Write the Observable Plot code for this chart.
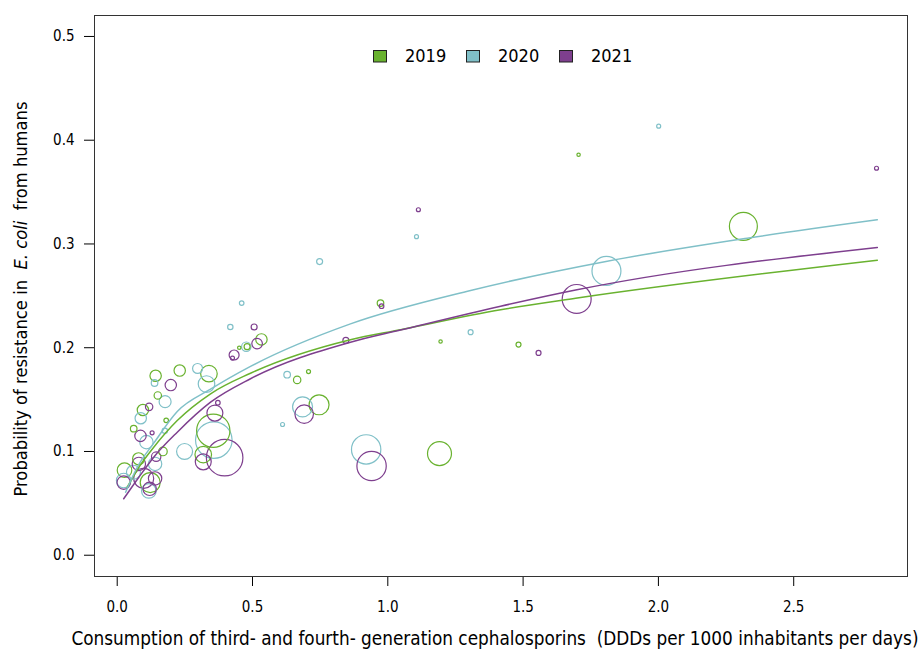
<!DOCTYPE html>
<html><head><meta charset="utf-8">
<script src="https://cdn.jsdelivr.net/npm/d3@7"></script>
<script src="https://cdn.jsdelivr.net/npm/@observablehq/plot@0.6"></script>
<style>
body{margin:0;background:#fff;}
#chart svg{display:block;}
</style>
</head><body>
<div id="chart"></div>
<script>
const years = ["2019", "2020", "2021"];
const colors = ["#69b22f", "#80c0c8", "#7e3f8e"];

// 2019
const x2019 = [0.142,0.231,0.339,0.150,0.095,0.061,0.181,0.169,0.355,0.318,0.533,0.480,0.451,0.665,0.707,0.746,0.973,0.027,0.122,0.079,1.191,1.195,1.483,1.705,2.314];
const y2019 = [0.173,0.178,0.175,0.154,0.140,0.122,0.130,0.100,0.120,0.097,0.208,0.201,0.200,0.169,0.177,0.145,0.243,0.082,0.070,0.093,0.098,0.206,0.203,0.386,0.317];
const n2019 = [812,812,1722,342,812,272,132,462,6972,1722,812,225,72,342,100,2500,272,1332,2500,900,3600,72,156,72,4900];
// 2020
const x2020 = [0.460,0.418,0.477,0.297,0.330,0.138,0.177,0.087,0.357,0.249,0.108,0.176,0.628,0.685,0.611,0.920,0.024,0.117,0.140,0.060,1.808,2.001,1.106,0.748,1.306];
const y2020 = [0.243,0.220,0.201,0.180,0.165,0.166,0.148,0.132,0.111,0.100,0.109,0.120,0.174,0.143,0.126,0.102,0.072,0.062,0.088,0.080,0.274,0.4135,0.307,0.283,0.215];
const n2020 = [132,182,552,625,1722,272,900,812,8372,1600,1122,182,272,2500,100,5402,1332,1332,1122,1225,5256,100,100,225,156];
// 2021
const x2021 = [0.506,0.517,0.432,0.426,0.845,0.977,0.198,0.118,0.129,0.086,0.144,0.372,0.361,0.397,0.318,0.691,0.940,0.024,0.098,0.120,0.080,0.140,1.698,2.806,1.113,1.557];
const y2021 = [0.220,0.204,0.193,0.190,0.207,0.240,0.164,0.143,0.118,0.115,0.095,0.147,0.137,0.094,0.090,0.136,0.086,0.070,0.074,0.064,0.088,0.074,0.247,0.373,0.333,0.195];
const n2021 = [225,702,625,100,225,132,812,342,100,812,552,132,1600,8372,1600,2162,5402,1122,2500,1122,1122,1122,5256,100,100,156];

// fitted curves
const fitX2019 = [0.037,0.080,0.135,0.222,0.345,0.4926,0.862,1.047,1.417,1.694,2.809];
const fitY2019 = [0.0655,0.0848,0.1041,0.1298,0.1556,0.1754,0.2077,0.2174,0.2366,0.2477,0.2844];
const fitX2020 = [0.031,0.074,0.135,0.222,0.345,0.4926,0.862,1.306,1.811,2.328,2.809];
const fitY2020 = [0.0607,0.0848,0.108,0.1385,0.160,0.182,0.223,0.2552,0.2834,0.3056,0.3233];
const fitX2021 = [0.024,0.080,0.135,0.222,0.345,0.4926,0.862,1.047,1.417,1.694,2.809];
const fitY2021 = [0.0544,0.0752,0.0945,0.1186,0.1475,0.1701,0.2053,0.2170,0.2400,0.2556,0.2966];

const xTicks = [0, 0.5, 1, 1.5, 2, 2.5];
const yTicks = [0, 0.1, 0.2, 0.3, 0.4, 0.5];

const xLabel = "Consumption of third- and fourth- generation cephalosporins  (DDDs per 1000 inhabitants per days)";
const yLabelParts = ["Probability of resistance in  ", "E. coli", "  from humans"];

const X = [x2019, x2020, x2021], Y = [y2019, y2020, y2021], N = [n2019, n2020, n2021];
const FX = [fitX2019, fitX2020, fitX2021], FY = [fitY2019, fitY2020, fitY2021];

const pts = [], fits = [];
years.forEach((yr, i) => {
  X[i].forEach((v, j) => pts.push({year: yr, x: v, y: Y[i][j], n: N[i][j]}));
  FX[i].forEach((v, j) => fits.push({year: yr, x: v, y: FY[i][j]}));
});

const FONT = '"DejaVu Sans Condensed","DejaVu Sans",sans-serif';

const chart = Plot.plot({
  width: 923, height: 651,
  marginLeft: 94, marginRight: 16, marginTop: 15, marginBottom: 75,
  style: {fontFamily: FONT, fontSize: "15px", color: "#000", background: "#fff"},
  x: {domain: [-0.0839, 2.9205], ticks: xTicks, tickFormat: d3.format(".1f"), tickSize: 10, tickPadding: 15, label: null},
  y: {domain: [-0.0205, 0.5202], ticks: yTicks, tickFormat: d3.format(".1f"), tickSize: 10, tickPadding: 10, label: null},
  color: {domain: years, range: colors},
  r: {type: "sqrt", domain: [0, 8400], range: [0, 18.3]},
  marks: [
    Plot.frame({stroke: "#333"}),
    Plot.dot(pts, {x: "x", y: "y", r: "n", stroke: "year", fill: "none", strokeWidth: 1.2}),
    Plot.line(fits, {x: "x", y: "y", z: "year", stroke: "year", curve: "monotone-x", strokeWidth: 1.5})
  ]
});

document.getElementById("chart").appendChild(chart);
const svg = d3.select(chart);

// axis titles
svg.append("text")
  .attr("x", 495).attr("y", 645)
  .attr("text-anchor", "middle")
  .style("font-family", FONT).style("font-size", "18.8px").style("white-space", "pre")
  .attr("fill", "#000")
  .text(xLabel);

const yl = svg.append("text")
  .attr("transform", "translate(27,299) rotate(-90)")
  .attr("text-anchor", "middle")
  .style("font-family", FONT).style("font-size", "18.2px").style("white-space", "pre")
  .attr("fill", "#000");
yl.append("tspan").text(yLabelParts[0]);
yl.append("tspan").style("font-style", "italic").text(yLabelParts[1]);
yl.append("tspan").text(yLabelParts[2]);

// legend
const lg = svg.append("g").attr("text-anchor", "start");
years.forEach((yr, i) => {
  const g = lg.append("g").attr("transform", `translate(${373 + i * 93},0)`);
  g.append("rect").attr("x", 0.5).attr("y", 50.5).attr("width", 13).attr("height", 11.5)
    .attr("fill", colors[i]).attr("stroke", "#222").attr("stroke-width", 1);
  g.append("text").attr("x", 32).attr("y", 62.3).attr("text-anchor", "start")
    .style("font-family", FONT).style("font-size", "18px").attr("fill", "#000").text(yr);
});
</script>
</body></html>
